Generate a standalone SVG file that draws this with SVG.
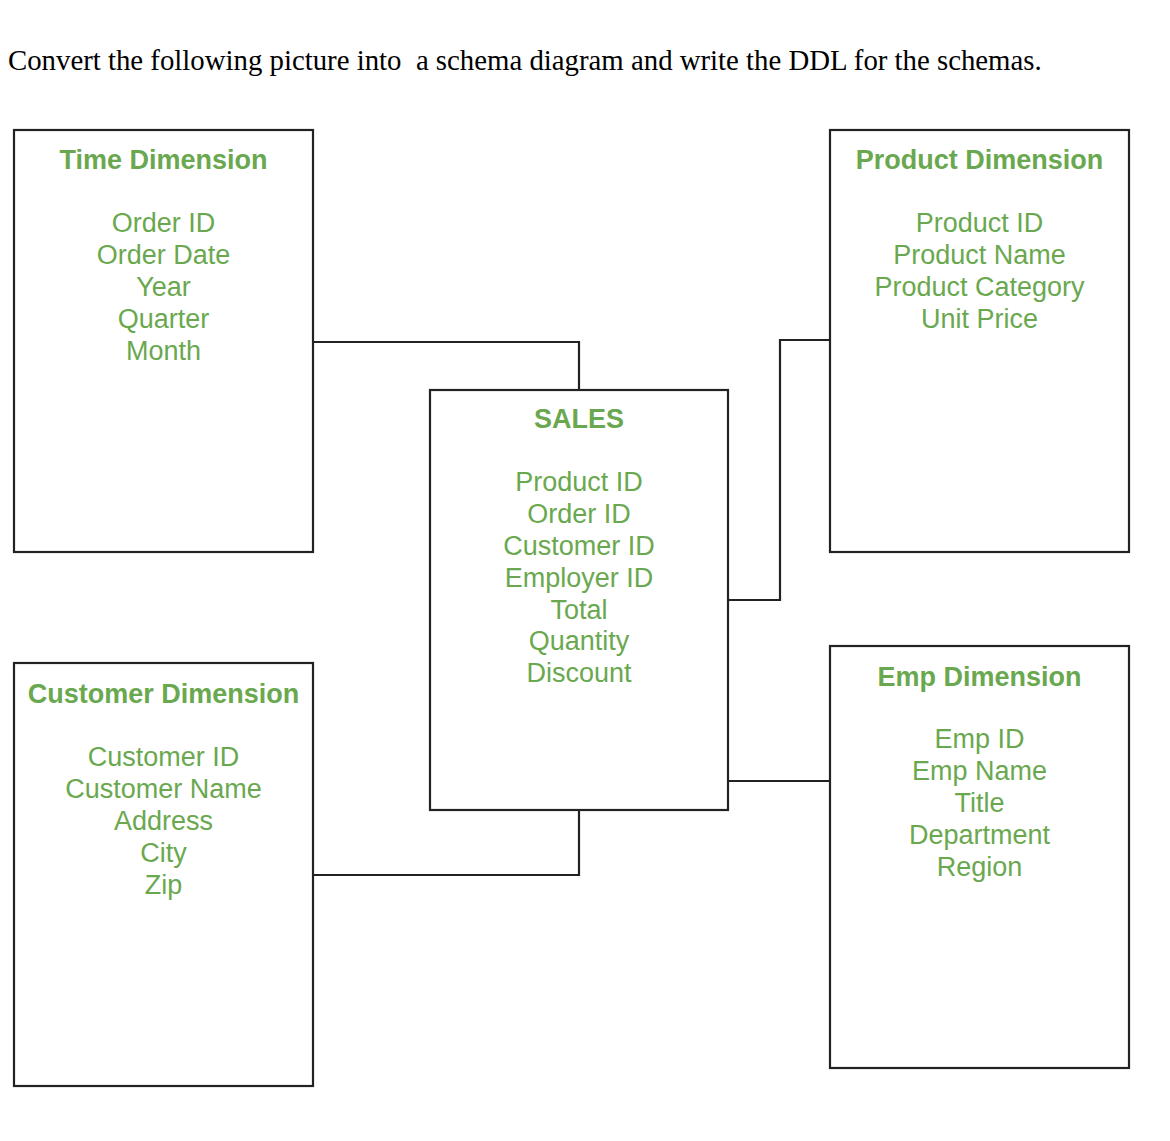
<svg xmlns="http://www.w3.org/2000/svg" width="1170" height="1141" viewBox="0 0 1170 1141">
<style>
.box{fill:#fff;stroke:#222;stroke-width:2.2}
.conn{fill:none;stroke:#222;stroke-width:2.2}
.h{font-family:"Liberation Sans",Arial,sans-serif;font-size:27px;font-weight:bold;fill:#6aa84f;text-anchor:middle}
.t{font-family:"Liberation Sans",Arial,sans-serif;font-size:27px;fill:#6aa84f;text-anchor:middle}
.q{font-family:"Liberation Serif","Times New Roman",serif;font-size:28.8px;fill:#000;white-space:pre}
</style>
<rect width="1170" height="1141" fill="#fff"/>
<text class="q" x="8" y="70" xml:space="preserve">Convert the following picture into  a schema diagram and write the DDL for the schemas.</text>
<g id="connectors">
<polyline class="conn" points="313,342 579,342 579,390"/>
<polyline class="conn" points="830,340 780,340 780,600 728,600"/>
<polyline class="conn" points="728,781 830,781"/>
<polyline class="conn" points="313,875 579,875 579,810"/>
</g>
<g id="time">
<rect class="box" x="14" y="130" width="299" height="422"/>
<text class="h" x="163.5" y="169">Time Dimension</text>
<text class="t" x="163.5" y="232">Order ID</text>
<text class="t" x="163.5" y="264">Order Date</text>
<text class="t" x="163.5" y="296">Year</text>
<text class="t" x="163.5" y="328">Quarter</text>
<text class="t" x="163.5" y="360">Month</text>
</g>
<g id="product">
<rect class="box" x="830" y="130" width="299" height="422"/>
<text class="h" x="979.5" y="169">Product Dimension</text>
<text class="t" x="979.5" y="232">Product ID</text>
<text class="t" x="979.5" y="264">Product Name</text>
<text class="t" x="979.5" y="296">Product Category</text>
<text class="t" x="979.5" y="328">Unit Price</text>
</g>
<g id="sales">
<rect class="box" x="430" y="390" width="298" height="420"/>
<text class="h" x="579" y="428">SALES</text>
<text class="t" x="579" y="491">Product ID</text>
<text class="t" x="579" y="523">Order ID</text>
<text class="t" x="579" y="555">Customer ID</text>
<text class="t" x="579" y="587">Employer ID</text>
<text class="t" x="579" y="619">Total</text>
<text class="t" x="579" y="650">Quantity</text>
<text class="t" x="579" y="682">Discount</text>
</g>
<g id="customer">
<rect class="box" x="14" y="663" width="299" height="423"/>
<text class="h" x="163.5" y="703">Customer Dimension</text>
<text class="t" x="163.5" y="766">Customer ID</text>
<text class="t" x="163.5" y="798">Customer Name</text>
<text class="t" x="163.5" y="830">Address</text>
<text class="t" x="163.5" y="862">City</text>
<text class="t" x="163.5" y="894">Zip</text>
</g>
<g id="emp">
<rect class="box" x="830" y="646" width="299" height="422"/>
<text class="h" x="979.5" y="686">Emp Dimension</text>
<text class="t" x="979.5" y="748">Emp ID</text>
<text class="t" x="979.5" y="780">Emp Name</text>
<text class="t" x="979.5" y="812">Title</text>
<text class="t" x="979.5" y="844">Department</text>
<text class="t" x="979.5" y="876">Region</text>
</g>
</svg>
